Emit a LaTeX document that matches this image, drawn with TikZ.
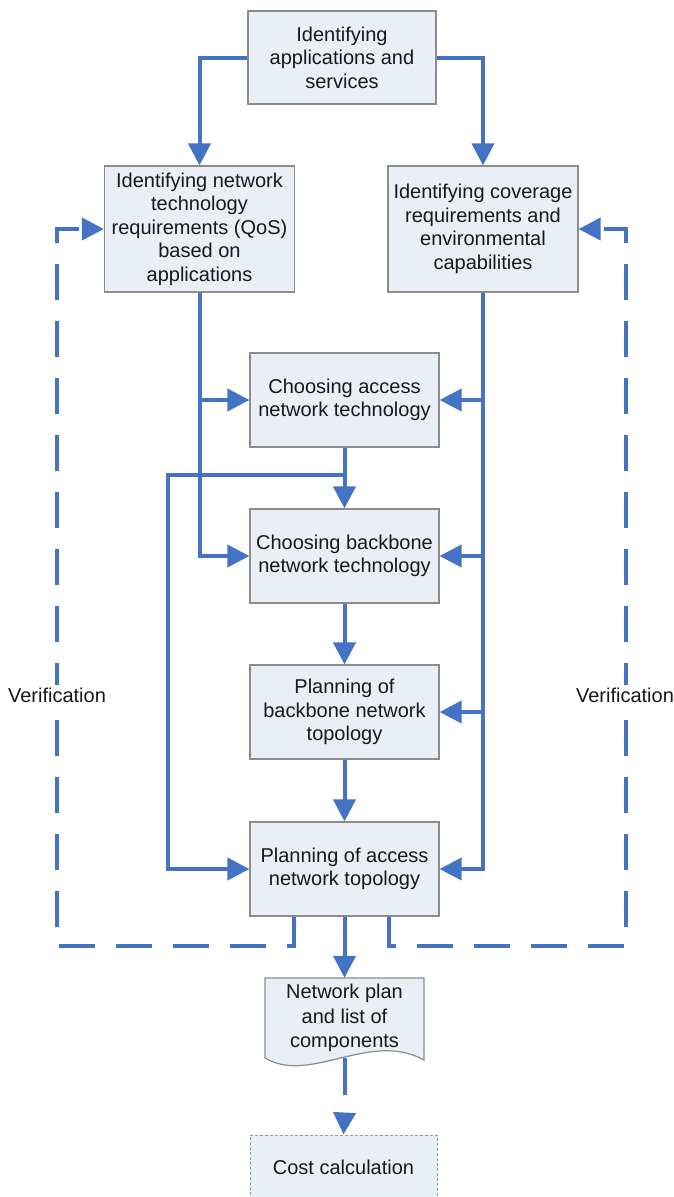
\documentclass[tikz,border=0pt]{standalone}
\usepackage{fontspec}
\setmainfont{Liberation Sans}
\usetikzlibrary{arrows.meta,calc}
\definecolor{lblue}{RGB}{68,114,196}
\definecolor{boxfill}{RGB}{233,238,247}
\definecolor{boxline}{RGB}{140,140,140}
\definecolor{textc}{RGB}{25,25,25}
\tikzset{
  box/.style={draw=boxline, fill=boxfill, line width=1.2pt, align=center, inner sep=0pt,
    font=\fontsize{20}{23.5}\selectfont, text=textc},
  plainline/.style={draw=lblue, line width=4pt},
  conn/.style={plainline, -{Triangle[length=22pt,width=22pt]}},
  dashconn/.style={conn, dash pattern=on 36pt off 21pt},
  vlab/.style={fill=white, inner sep=3pt, font=\fontsize{20}{23.5}\selectfont, text=textc},
  docbox/.style={align=center, inner sep=0pt, font=\fontsize{20}{24.5}\selectfont, text=textc},
  costbox/.style={box, draw=boxline!90, line width=1pt, dash pattern=on 3pt off 2pt}
}
\begin{document}
\begin{tikzpicture}[x=1pt,y=-1pt]
\useasboundingbox (0,0) rectangle (673,1197);
\clip (0,0) rectangle (673,1197);
\fill[white] (0,0) rectangle (673,1197);

% boxes
\node[box, minimum width=188pt, minimum height=93pt] (top) at (342,57.5) {Identifying\\applications and\\services};
\node[box, minimum width=190pt, minimum height=126pt] (qos) at (199.5,229) {Identifying network\\technology\\requirements (QoS)\\based on\\applications};
\node[box, minimum width=190pt, minimum height=126pt] (cov) at (483,229) {Identifying coverage\\requirements and\\environmental\\capabilities};
\node[box, minimum width=189pt, minimum height=94pt] (acc) at (344.5,400) {Choosing access\\network technology};
\node[box, minimum width=189pt, minimum height=94pt] (bb) at (344.5,556) {Choosing backbone\\network technology};
\node[box, minimum width=189pt, minimum height=94pt] (pb) at (344.5,712) {Planning of\\backbone network\\topology};
\node[box, minimum width=189pt, minimum height=94pt] (pa) at (344.5,869) {Planning of access\\network topology};

% document shape
\filldraw[fill=boxfill, draw=boxline, line width=1.2pt]
  (265,978) -- (424,978) -- (424,1060) .. controls (370,1030) and (310,1085) .. (265,1058) -- cycle;
\node[docbox, minimum width=159pt, minimum height=80pt] (doc) at (344.5,1018) {Network plan\\and list of\\components};

% cost box
\node[costbox, minimum width=187pt, minimum height=64pt] (cost) at (343.5,1167) {Cost calculation};

% connectors from top
\draw[conn] (top.west) -| (qos.north);
\draw[conn] (top.east) -| (cov.north);

% left trunk
\draw[conn] (qos.south) |- (bb.west);
\draw[conn] (qos.south |- acc.west) -- (acc.west);

% right trunk
\draw[conn] (cov.south) |- (pa.east);
\draw[conn] (cov.south |- acc.east) -- (acc.east);
\draw[conn] (cov.south |- bb.east) -- (bb.east);
\draw[conn] (cov.south |- pb.east) -- (pb.east);

% central chain
\draw[conn] (acc.south) -- (bb.north);
\coordinate (br) at (344.5,475);
\coordinate (bl) at (168,475);
\draw[conn] (br) -- (bl) |- (pa.west);
\draw[conn] (bb.south) -- (pb.north);
\draw[conn] (pb.south) -- (pa.north);
\draw[conn] (pa.south) -- (doc.north);

% doc to cost
\coordinate (gapA) at (344.5,1095);
\coordinate (gapB) at (344.5,1114);
\draw[plainline] (doc.south) -- (gapA);
\draw[conn] (gapB) -- (cost.north);

% verification loops
\coordinate (vl) at (57,946);
\coordinate (vr) at (626,946);
\draw[dashconn] ([xshift=-51pt]pa.south) -- ([xshift=-51pt]pa.south |- vl) -- (vl) |- (qos.west);
\draw[dashconn] ([xshift=44.5pt]pa.south) -- ([xshift=44.5pt]pa.south |- vr) -- (vr) |- (cov.east);

\node[vlab] (verL) at (57,695) {Verification};
\node[vlab] (verR) at (625,695) {Verification};
\end{tikzpicture}
\end{document}
